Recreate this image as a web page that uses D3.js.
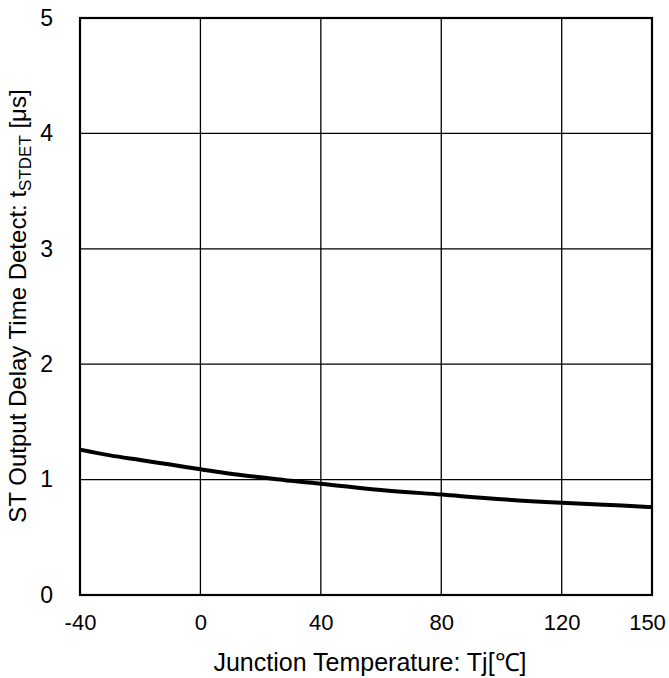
<!DOCTYPE html>
<html><head><meta charset="utf-8">
<script src="https://cdn.jsdelivr.net/npm/d3@7"></script>
<style>body{margin:0;background:#fff}svg{display:block}text{font-family:"Liberation Sans",Arial,sans-serif;fill:#000}</style>
</head><body>
<script>
const temps = [-40, -30, -20, -10, 0, 10, 20, 30, 40, 60, 80, 100, 120, 140, 150];
const delays = [1.26, 1.21, 1.17, 1.13, 1.09, 1.05, 1.02, 0.99, 0.965, 0.91, 0.87, 0.83, 0.80, 0.775, 0.762];
const xTicks = [-40, 0, 40, 80, 120, 150];
const yTicks = [0, 1, 2, 3, 4, 5];

const W = 669, H = 678;
const m = {left: 80, right: 17, top: 18, bottom: 83};
const svg = d3.select("body").append("svg").attr("width", W).attr("height", H);
const x = d3.scaleLinear().domain([-40, 150]).range([m.left, W - m.right]);
const y = d3.scaleLinear().domain([0, 5]).range([H - m.bottom, m.top]);
const FONT = "Liberation Sans, Arial, sans-serif";

const g = svg.append("g");
g.selectAll(".vg").data(xTicks).join("line")
  .attr("x1", d => x(d)).attr("x2", d => x(d)).attr("y1", y(0)).attr("y2", y(5))
  .attr("stroke", "#000").attr("stroke-width", 1.3);
g.selectAll(".hg").data(yTicks).join("line")
  .attr("x1", x(-40)).attr("x2", x(150)).attr("y1", d => y(d)).attr("y2", d => y(d))
  .attr("stroke", "#000").attr("stroke-width", 1.3);
g.append("rect").attr("x", x(-40)).attr("y", y(5)).attr("width", x(150) - x(-40)).attr("height", y(0) - y(5))
  .attr("fill", "none").attr("stroke", "#000").attr("stroke-width", 2.2);

const line = d3.line().x((d, i) => x(temps[i])).y(d => y(d)).curve(d3.curveMonotoneX);
svg.append("path").datum(delays).attr("d", line).attr("fill", "none")
  .attr("stroke", "#000").attr("stroke-width", 4);

const xAxis = svg.append("g").attr("transform", `translate(0,${y(0)})`)
  .call(d3.axisBottom(x).tickValues(xTicks).tickSize(0).tickPadding(19).tickFormat(d => String(d)));
xAxis.select(".domain").remove();
xAxis.selectAll("text").attr("font-size", 22).style("font-family", FONT)
  .attr("dx", d => d === 150 ? -5 : 0);

const yAxis = svg.append("g").attr("transform", `translate(${x(-40)},0)`)
  .call(d3.axisLeft(y).tickValues(yTicks).tickSize(0).tickPadding(27).tickFormat(d => String(d)));
yAxis.select(".domain").remove();
yAxis.selectAll("text").attr("font-size", 23).style("font-family", FONT);

svg.append("text").attr("x", 370).attr("y", 671)
  .attr("text-anchor", "middle").attr("font-size", 25).text("Junction Temperature: Tj[℃]");

const yl = svg.append("text").attr("transform", `translate(26,306) rotate(-90)`)
  .attr("text-anchor", "middle").attr("font-size", 24);
yl.append("tspan").text("ST Output Delay Time Detect: t");
yl.append("tspan").attr("font-size", 17).attr("dy", 5).text("STDET");
yl.append("tspan").attr("dy", -5).text(" [μs]");
</script>
</body></html>
